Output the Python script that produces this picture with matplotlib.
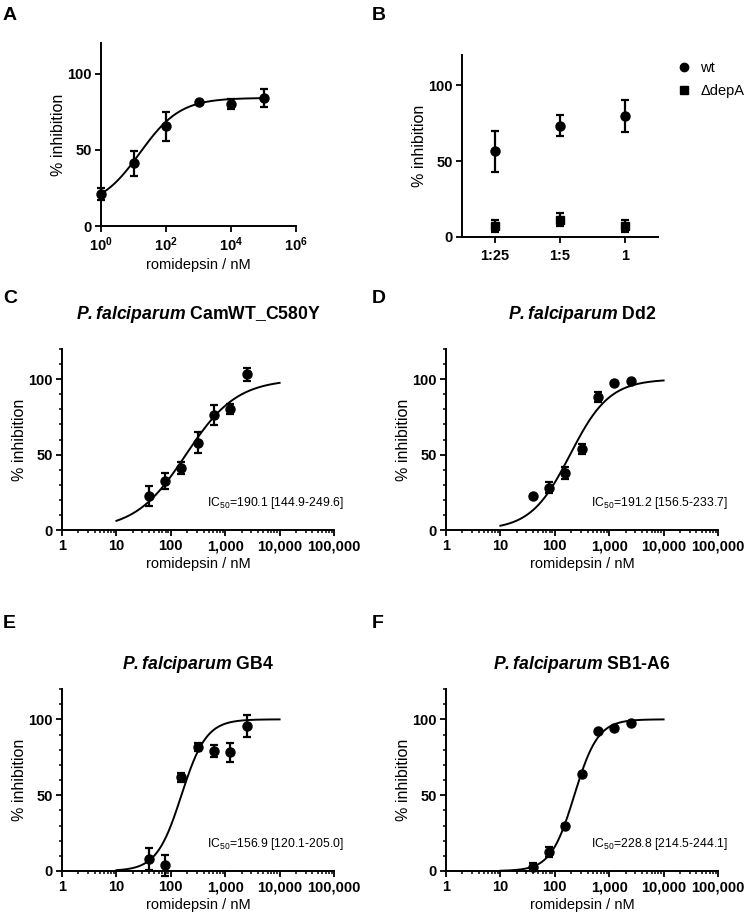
import numpy as np
import matplotlib
matplotlib.use("Agg")
import matplotlib.pyplot as plt
from matplotlib.ticker import FixedLocator, LogLocator, MultipleLocator, NullFormatter, NullLocator
from matplotlib.lines import Line2D

plt.rcParams['font.family'] = ['Liberation Sans', 'DejaVu Sans']
plt.rcParams['mathtext.fontset'] = 'custom'
plt.rcParams['mathtext.rm'] = 'Liberation Sans'
plt.rcParams['mathtext.it'] = 'Liberation Sans:italic'
plt.rcParams['mathtext.bf'] = 'Liberation Sans:bold'
plt.rcParams['mathtext.bfit'] = 'Liberation Sans:italic:bold'

# ---- data ----
# panel A
conc_a = [1, 10, 100, 1000, 10000, 100000]
inh_a = [21, 41, 65.5, 81, 80, 84]
err_a = [4, 8, 9.5, 1, 3.5, 6]
fit_a = dict(bottom=12, top=84, log_ec50=1.2, hill=0.7)

# panel B
ratios = ['1:25', '1:5', '1']
wt = [56.5, 73.5, 80]
wt_err = [13.5, 7, 10.5]
depA = [7, 11.5, 7]
depA_err = [4, 4, 4]

# panels C-F (two-fold dilution series)
conc = [39.06, 78.13, 156.25, 312.5, 625, 1250, 2500]
strains = ['CamWT_C580Y', 'Dd2', 'GB4', 'SB1-A6']
inh_c = [22.8, 32.7, 41.2, 58, 76.3, 80.3, 103.3]
err_c = [6.6, 5.4, 4.2, 7.2, 6.6, 3.1, 4.3]
inh_d = [22.8, 28.1, 37.6, 53.8, 88.1, 97.6, 98.9]
err_d = [0.5, 3.5, 4, 3.5, 3.5, 0.5, 0.5]
inh_e = [8.1, 3.7, 61.7, 81.9, 79.3, 78.2, 95.6]
err_e = [7.3, 7, 3, 2.7, 4.1, 6.3, 7.4]
inh_f = [2.6, 12.6, 29.7, 63.8, 92.1, 94.5, 97.6]
err_f = [2.5, 3.3, 1, 0.5, 0.5, 0.5, 0.5]
ic50 = [190.1, 191.2, 156.9, 228.8]
ic50_ci = ['144.9-249.6', '156.5-233.7', '120.1-205.0', '214.5-244.1']
hill = [0.93, 1.2, 1.9, 2.0]

# ---- figure ----
fig = plt.figure(figsize=(7.5, 9.16), dpi=100)

W, H = 750, 916
def box(x0, x1, y0, y1):
    return [x0 / W, 1 - y1 / H, (x1 - x0) / W, (y1 - y0) / H]

ax_a = fig.add_axes(box(101, 296, 43, 226))
ax_b = fig.add_axes(box(462, 658, 55, 237))
ax_c = fig.add_axes(box(62, 334, 349, 530))
ax_d = fig.add_axes(box(446, 718, 349, 530))
ax_e = fig.add_axes(box(62, 334, 689, 871))
ax_f = fig.add_axes(box(446, 718, 689, 871))

TICK_FS = 10.5
LABEL_FS = 10.5
YLABEL_FS = 11.5


def style(ax):
    for s in ['top', 'right']:
        ax.spines[s].set_visible(False)
    for s in ['left', 'bottom']:
        ax.spines[s].set_linewidth(1.4)
    ax.tick_params(which='major', length=4, width=1.3, direction='out', pad=2.5)
    ax.tick_params(which='minor', length=2.5, width=1.1, direction='out')
    ax.set_ylim(0, 120)
    ax.set_yticks([0, 50, 100])
    ax.set_yticklabels(['0', '50', '100'], fontsize=TICK_FS, fontweight='bold')
    ax.set_ylabel('% inhibition', fontsize=YLABEL_FS, labelpad=1)


def errplot(ax, x, y, e, marker='o', ms=6.5):
    ax.errorbar(x, y, yerr=e, fmt=marker, color='black', ms=ms, capsize=3,
                capthick=1.6, elinewidth=1.6, clip_on=False, zorder=3)


def logistic(x, bottom, top, log_ec50, h):
    return bottom + (top - bottom) / (1 + 10 ** ((log_ec50 - np.log10(x)) * h))


# panel A
style(ax_a)
ax_a.set_xscale('log')
ax_a.set_xlim(1, 1e6)
xa = np.logspace(0, 5, 300)
ax_a.plot(xa, logistic(xa, fit_a['bottom'], fit_a['top'], fit_a['log_ec50'], fit_a['hill']),
          color='black', lw=1.4)
errplot(ax_a, conc_a, inh_a, err_a)
ax_a.xaxis.set_major_locator(FixedLocator([1, 1e2, 1e4, 1e6]))
ax_a.xaxis.set_minor_locator(NullLocator())
ax_a.set_xticklabels([r'$\mathbf{10^{0}}$', r'$\mathbf{10^{2}}$', r'$\mathbf{10^{4}}$', r'$\mathbf{10^{6}}$'],
                     fontsize=TICK_FS)
ax_a.set_xlabel('romidepsin / nM', fontsize=LABEL_FS, labelpad=3)

# panel B
style(ax_b)
xb = np.arange(len(ratios))
errplot(ax_b, xb, wt, wt_err, 'o')
errplot(ax_b, xb, depA, depA_err, 's', ms=5.5)
ax_b.set_xlim(-0.5, 2.5)
ax_b.set_xticks(xb)
ax_b.set_xticklabels(ratios, fontsize=TICK_FS, fontweight='bold')
ax_b.tick_params(axis='x', pad=5)
handles = [Line2D([], [], ls='none', marker='o', color='black', ms=6),
           Line2D([], [], ls='none', marker='s', color='black', ms=5.5)]
ax_b.legend(handles, ['wt', '\u0394depA'], loc='upper left', bbox_to_anchor=(1.03, 1.04),
            frameon=False, fontsize=10.5, handlelength=1, handletextpad=0.6, labelspacing=0.65)

# panels C-F
xfit = np.logspace(1, 4, 300)
tick_lbls = ['1', '10', '100', '1,000', '10,000', '100,000']
panels = [(ax_c, inh_c, err_c, 21.5), (ax_d, inh_d, err_d, 21.5),
          (ax_e, inh_e, err_e, 14.5), (ax_f, inh_f, err_f, 14.5)]
for i, (ax, y, e, tpad) in enumerate(panels):
    style(ax)
    ax.set_xscale('log')
    ax.set_xlim(1, 1e5)
    ax.plot(xfit, logistic(xfit, 0, 100, np.log10(ic50[i]), hill[i]), color='black', lw=1.4)
    errplot(ax, conc, y, e)
    ax.xaxis.set_major_locator(FixedLocator([1, 10, 100, 1e3, 1e4, 1e5]))
    ax.xaxis.set_minor_locator(LogLocator(base=10, subs=np.arange(2, 10), numticks=20))
    ax.xaxis.set_minor_formatter(NullFormatter())
    ax.set_xticklabels(tick_lbls, fontsize=TICK_FS, fontweight='bold')
    ax.yaxis.set_minor_locator(MultipleLocator(10))
    ax.set_xlabel('romidepsin / nM', fontsize=LABEL_FS, labelpad=3)
    # mathtext puts a small space after the '.' itself
    ax.set_title(r'$\mathbfit{P.falciparum}$ ' + strains[i], fontsize=12.7,
                 fontweight='bold', pad=tpad)
    ax.text(0.533, 18, 'IC$_{50}$=%.1f [%s]' % (ic50[i], ic50_ci[i]),
            transform=ax.get_yaxis_transform(), fontsize=8.8, va='center', ha='left')

# panel letters
for lbl, x, y in [('A', 3, 7), ('B', 372, 7), ('C', 3, 290), ('D', 372, 290),
                  ('E', 3, 615), ('F', 372, 615)]:
    fig.text(x / W, 1 - y / H, lbl, fontsize=14, fontweight='bold', va='top', ha='left')

fig.savefig('out.png', dpi=100)
